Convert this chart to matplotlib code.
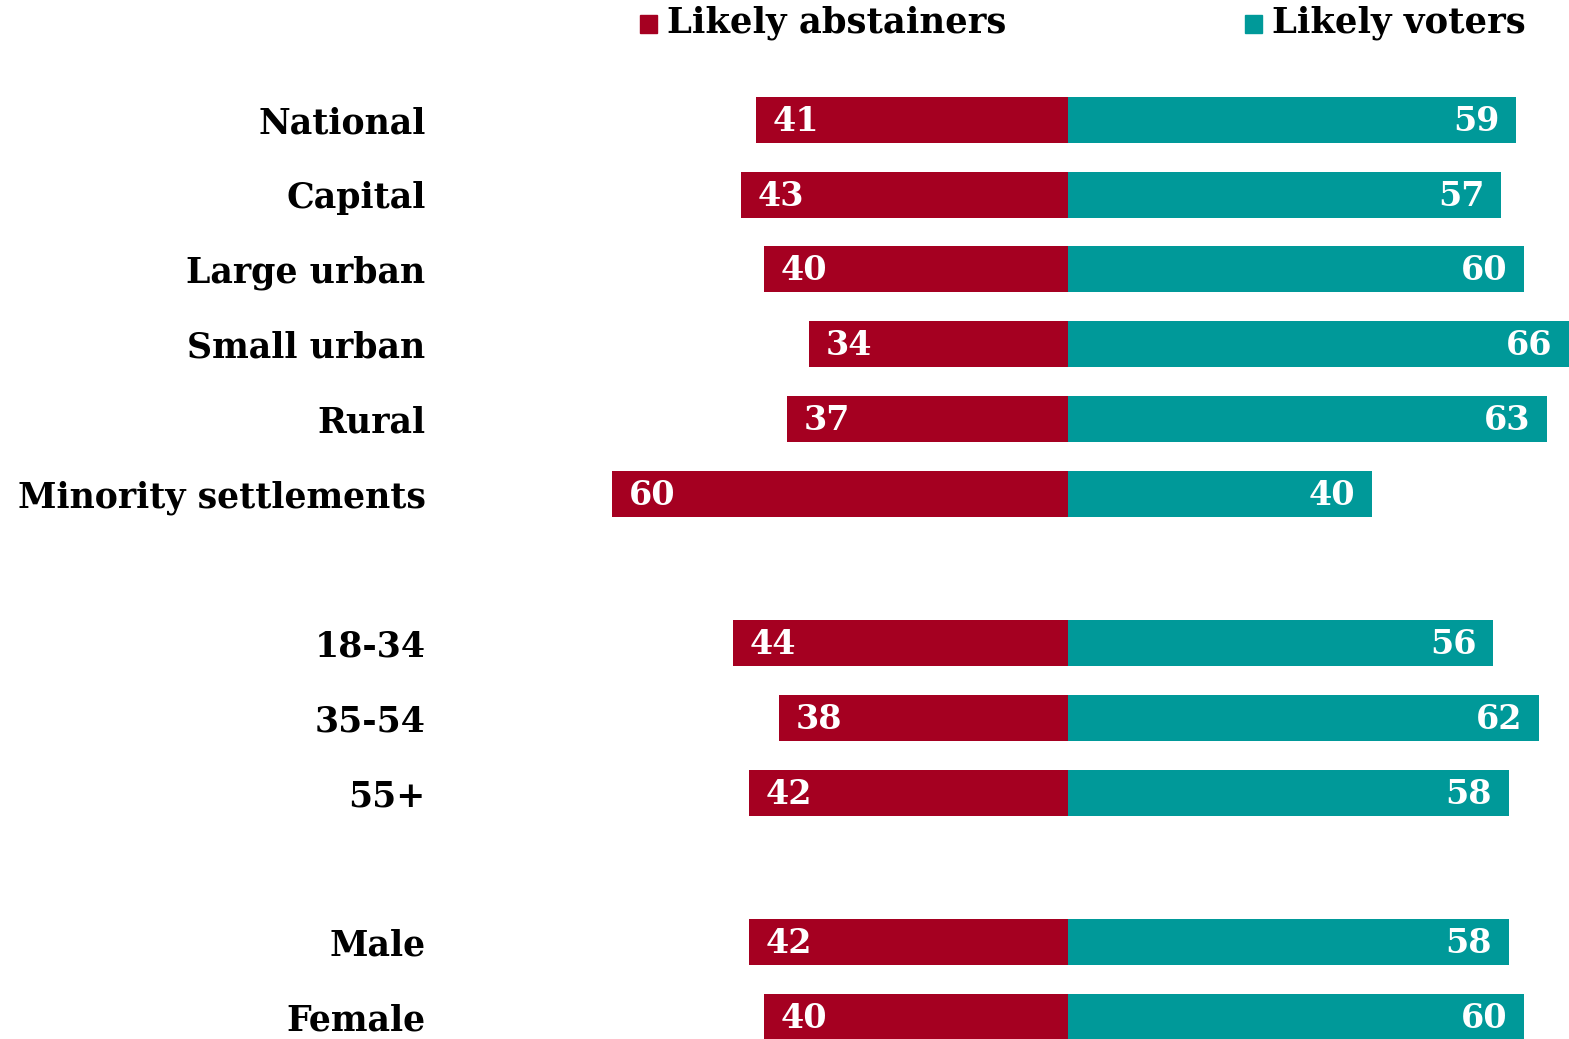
import matplotlib.pyplot as plt
from matplotlib.patches import Rectangle

# categories and values (percent)
groups = ['National', 'Capital', 'Large urban', 'Small urban', 'Rural',
          'Minority settlements', '18-34', '35-54', '55+', 'Male', 'Female']
positions = [0, 1, 2, 3, 4, 5, 7, 8, 9, 11, 12]
abstainers = [41, 43, 40, 34, 37, 60, 44, 38, 42, 42, 40]
voters = [59, 57, 60, 66, 63, 40, 56, 62, 58, 58, 60]

RED = '#A50021'
TEAL = '#009999'
FONT = 'DejaVu Serif'

fig = plt.figure(figsize=(15.69, 10.39), dpi=100)
ax = fig.add_axes([0.28, 0.0, 0.72, 1.0])

bar_h = 0.615
ax.barh(positions, [-a for a in abstainers], height=bar_h, color=RED)
ax.barh(positions, voters, height=bar_h, color=TEAL)

for y, a, v in zip(positions, abstainers, voters):
    ax.annotate(str(a), (-a, y), xytext=(12, -1), textcoords='offset points',
                ha='left', va='center', color='white', fontsize=24,
                fontweight='bold', family=FONT)
    ax.annotate(str(v), (v, y), xytext=(-12, -1), textcoords='offset points',
                ha='right', va='center', color='white', fontsize=24,
                fontweight='bold', family=FONT)

ax.set_xlim(-82.7, 65.95)
ax.set_ylim(12.294, -1.605)
ax.set_yticks(positions)
ax.set_yticklabels(groups, fontsize=25, fontweight='bold', family=FONT)
ax.tick_params(axis='y', length=0, pad=10)
ax.set_xticks([])
for s in ax.spines.values():
    s.set_visible(False)

# legend at top
W, H = 1569, 1039
for x0, label, col in [(640, 'Likely abstainers', RED), (1245, 'Likely voters', TEAL)]:
    fig.add_artist(Rectangle((x0 / W, 1 - 33 / H), 17 / W, 18 / H,
                             transform=fig.transFigure, color=col))
    fig.text((x0 + 27) / W, 1 - 23 / H, label, ha='left', va='center',
             fontsize=25.5, fontweight='bold', family=FONT)

fig.savefig('out.png', dpi=100)
